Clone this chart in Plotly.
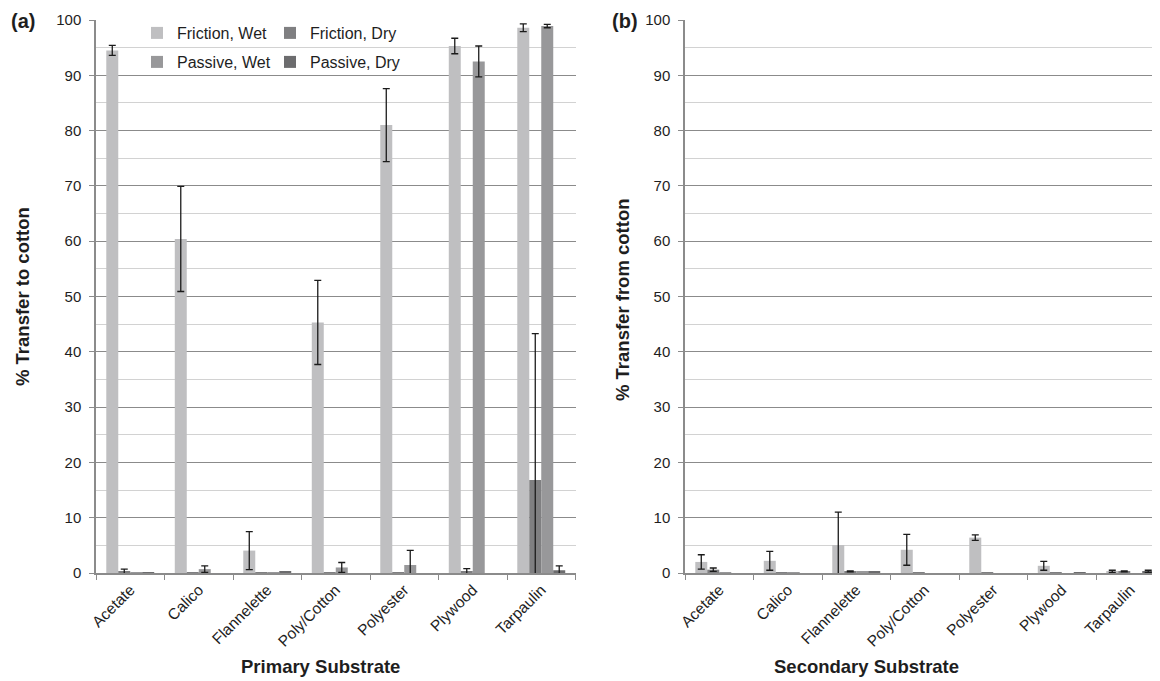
import plotly.graph_objects as go

# ---------------- data ----------------
categories = ["Acetate", "Calico", "Flannelette", "Poly/Cotton", "Polyester", "Plywood", "Tarpaulin"]
series_names = ["Friction, Wet", "Friction, Dry", "Passive, Wet", "Passive, Dry"]

# (a) % Transfer to cotton (primary substrate)
a_friction_wet = [94.5, 60.4, 4.05, 45.3, 81.0, 95.3, 98.6]
a_friction_wet_err = [0.9, 9.5, 3.45, 7.6, 6.6, 1.4, 0.7]
a_friction_dry = [0.3, 0.1, 0.05, 0.1, 0.1, 0.3, 16.8]
a_friction_dry_err = [0.4, None, None, None, None, 0.5, 26.5]
a_passive_wet = [0.1, 0.7, 0.05, 1.0, 1.45, 92.5, 98.9]
a_passive_wet_err = [None, 0.6, None, 0.9, 2.65, 2.8, 0.3]
a_passive_dry = [0.1, 0.0, 0.2, 0.0, 0.0, 0.0, 0.5]
a_passive_dry_err = [None, None, None, None, None, None, 0.8]

# (b) % Transfer from cotton (secondary substrate)
b_friction_wet = [2.0, 2.2, 5.05, 4.2, 6.4, 1.3, 0.3]
b_friction_wet_err = [1.3, 1.7, 5.95, 2.8, 0.5, 0.8, 0.2]
b_friction_dry = [0.6, 0.1, 0.3, 0.15, 0.1, 0.15, 0.3]
b_friction_dry_err = [0.3, None, 0.1, None, None, None, 0.1]
b_passive_wet = [0.15, 0.1, 0.3, 0.0, 0.0, 0.0, 0.0]
b_passive_wet_err = [None, None, None, None, None, None, None]
b_passive_dry = [0.0, 0.0, 0.25, 0.0, 0.0, 0.1, 0.3]
b_passive_dry_err = [None, None, None, None, None, None, 0.2]

colors = ["#bfbfc1", "#7f7f81", "#98989a", "#6c6c6e"]

# ---------------- geometry (screen px -> figure px; page body has an 8px margin) ----------------
OFF = 8
W, H = 1152, 673
A_X0, A_X1 = 96 - OFF, 575.5 - OFF
B_X0 = 685 - OFF
PLOT_T, PLOT_B = 20 - OFF, 573 - OFF
CAT_PX = (A_X1 - A_X0) / len(categories)


def px(sx):
    return (sx - OFF) / W


def py(sy):
    return (PLOT_B - (sy - OFF)) / (PLOT_B - PLOT_T)


def err(arr):
    return dict(type="data", symmetric=True, visible=True,
                array=["NaN" if e is None else e for e in arr],
                color="#1b1b1b", thickness=1.3, width=3.5)


FONT = "Liberation Sans, Arial, sans-serif"
TXT = "#1e1e1e"

fig = go.Figure()

a_series = [
    (a_friction_wet, a_friction_wet_err),
    (a_friction_dry, a_friction_dry_err),
    (a_passive_wet, a_passive_wet_err),
    (a_passive_dry, a_passive_dry_err),
]
b_series = [
    (b_friction_wet, b_friction_wet_err),
    (b_friction_dry, b_friction_dry_err),
    (b_passive_wet, b_passive_wet_err),
    (b_passive_dry, b_passive_dry_err),
]
legend_of = ["legend", "legend", "legend2", "legend2"]

for i, (vals, errs) in enumerate(a_series):
    fig.add_trace(go.Bar(
        x=categories, y=vals, name=series_names[i],
        marker=dict(color=colors[i], line=dict(width=0)),
        error_y=err(errs), xaxis="x", yaxis="y",
        legend=legend_of[i], legendgroup=series_names[i], showlegend=True,
    ))
for i, (vals, errs) in enumerate(b_series):
    fig.add_trace(go.Bar(
        x=categories, y=vals, name=series_names[i],
        marker=dict(color=colors[i], line=dict(width=0)),
        error_y=err(errs), xaxis="x2", yaxis="y2",
        legendgroup=series_names[i], showlegend=False,
    ))

AX = "#8b8b8b"
yaxis_common = dict(
    range=[0, 100], tick0=0, dtick=10, showgrid=True, gridcolor=AX, gridwidth=1.2,
    minor=dict(tick0=0, dtick=5, showgrid=True, gridcolor="#d2d2d2", gridwidth=1.2),
    ticks="outside", ticklen=5, tickcolor=AX, tickwidth=1.2,
    showline=True, linecolor=AX, linewidth=1.5, zeroline=False,
    tickfont=dict(size=15, color=TXT, family=FONT), ticklabelstandoff=5,
    automargin=False,
)
xaxis_common = dict(
    type="category", tickson="boundaries", ticks="outside", ticklen=5,
    tickcolor=AX, tickwidth=1.2, showline=True, linecolor=AX, linewidth=1.5,
    showgrid=False, zeroline=False, tickangle=-45,
    tickfont=dict(size=15.5, color=TXT, family=FONT), automargin=False,
)

legend_common = dict(
    orientation="h", xanchor="left", yanchor="middle",
    bgcolor="rgba(0,0,0,0)", borderwidth=0,
    font=dict(size=16, color=TXT, family=FONT),
    entrywidth=88, entrywidthmode="pixels", itemclick=False, itemdoubleclick=False,
)

fig.update_layout(
    width=W, height=H,
    margin=dict(l=0, r=0, t=PLOT_T, b=H - PLOT_B, pad=0),
    paper_bgcolor="white", plot_bgcolor="white",
    font=dict(family=FONT, color=TXT),
    barmode="group", bargap=0.3, bargroupgap=0,
    xaxis=dict(domain=[A_X0 / W, A_X1 / W], anchor="y", range=[-0.5, 6.5], **xaxis_common),
    xaxis2=dict(domain=[B_X0 / W, 1.0], anchor="y2",
                range=[-0.5, -0.5 + (W - B_X0) / CAT_PX], **xaxis_common),
    yaxis=dict(domain=[0, 1], anchor="x", **yaxis_common),
    yaxis2=dict(domain=[0, 1], anchor="x2", **yaxis_common),
    legend=dict(x=px(137), y=py(33), **legend_common),
    legend2=dict(x=px(137), y=py(62), **legend_common),
    showlegend=True,
)

ann = [
    dict(text="<b>(a)</b>", x=px(23), y=py(21), size=20),
    dict(text="<b>(b)</b>", x=px(625), y=py(21), size=20),
    dict(text="<b>Primary Substrate</b>", x=px(320), y=py(666), size=18.5),
    dict(text="<b>Secondary Substrate</b>", x=px(866), y=py(666), size=18.5),
    dict(text="<b>% Transfer to cotton</b>", x=px(22), y=py(297), size=18.5, angle=-90),
    dict(text="<b>% Transfer from cotton</b>", x=px(622), y=py(300), size=18.5, angle=-90),
]
for a in ann:
    fig.add_annotation(
        text=a["text"], x=a["x"], y=a["y"], xref="paper", yref="paper",
        xanchor="center", yanchor="middle", showarrow=False,
        textangle=a.get("angle", 0),
        font=dict(size=a["size"], color=TXT, family=FONT),
    )

fig.write_html("out.html")
